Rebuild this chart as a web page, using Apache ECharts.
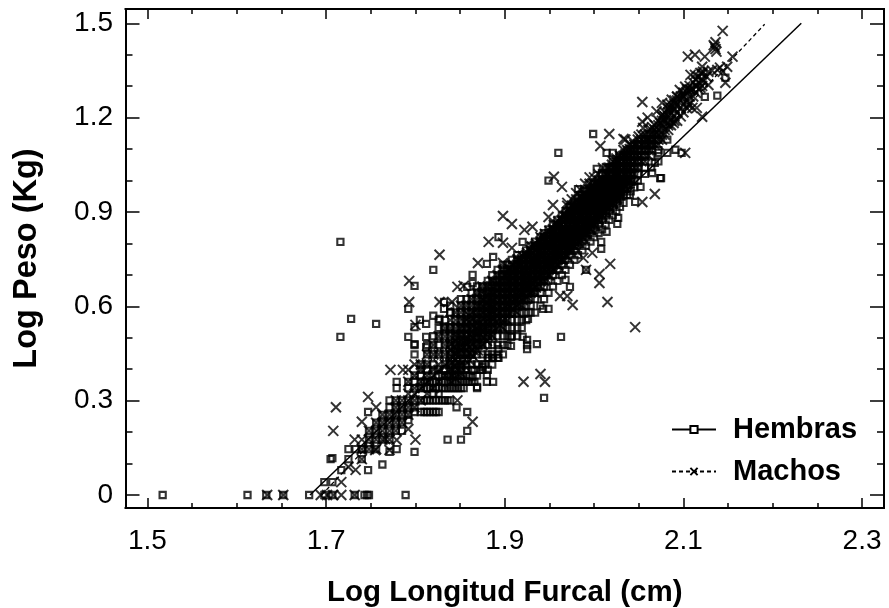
<!DOCTYPE html>
<html><head><meta charset="utf-8">
<script src="https://cdn.jsdelivr.net/npm/echarts@6/dist/echarts.min.js"></script>
<style>html,body{margin:0;padding:0;background:#fff}#c{width:889px;height:608px}</style>
</head><body><div id="c"></div>
<script>
const xMajor=[1.5,1.7,1.9,2.1,2.3];
const xMinor=[1.55,1.6,1.65,1.75,1.8,1.85,1.95,2,2.05,2.15,2.2,2.25];
const yMajor=[0,0.3,0.6,0.9,1.2,1.5];
const yMinor=[0.1,0.2,0.4,0.5,0.7,0.8,1,1.1,1.3,1.4];
const hembrasFit=[[1.682,0],[2.232,1.5]];
const machosFit=[[1.695,0],[2.191,1.497]];
const hembrasScattered=[
[1.517,0],[1.612,0],[1.633,0],[1.652,0],[1.681,0],[1.698,0],[1.707,0],[1.732,0],[1.743,0],[1.746,0],[1.748,0],[1.789,0],
[1.707,.117],[1.705,.114],[1.698,.041],[1.707,.041],[1.717,.079],[1.725,.114],[1.725,.146],[1.733,.146],[1.74,.146],[1.747,.079],[1.763,.097],[1.771,.137],[1.779,.146],[1.799,.137],[1.747,.264],[1.771,.301],[1.779,.36],[1.779,.34],[1.836,.176],[1.851,.176],[1.858,.204],[1.858,.264],[1.846,.279],[1.826,.264],[1.869,.34],[1.799,.477],[1.799,.447],[1.812,.47],
[1.716,.805],[1.82,.716],[1.799,.665],[1.728,.56],[1.756,.544],[1.716,.503],[1.792,.592],[1.792,.503],[1.799,.48],[1.805,.557],[1.799,.534],[1.812,.544],[1.82,.57],[1.827,.56],[1.832,.614],[1.832,.592],[1.839,.58],[1.832,.534],[1.839,.534],[1.812,.503],
[1.864,.7],[1.864,.674],[1.858,.662],[1.875,.662],[1.875,.636],[1.88,.735],[1.887,.757],[1.893,.82],[1.897,.7],[1.887,.678],[1.92,.805],[1.982,.973],[1.949,1.0],
[1.963,.503],[1.936,.48],[1.925,.493],[1.925,.477],[1.925,.464],[1.907,.503],[1.907,.474],[1.92,.503],[1.926,.56],[1.949,.592],[1.943,.592],[1.973,.662],[1.968,.684],[2.008,.805],[2.008,.783],[2.014,.837],[2.027,.881],[2.026,.862],[2.046,.932],[1.991,.716],[1.882,.436],[1.887,.436],[1.893,.436],[1.893,.464],[1.88,.382],[1.887,.36],[1.88,.36],[1.869,.344],[1.864,.375],[1.875,.407],[1.944,.309],
[1.999,1.148],[1.96,1.088],[2.003,1.037],[2.014,1.088],[2.021,1.088],[2.034,1.088],[2.052,.98],[2.065,1.024],[2.074,1.008],[2.04,.954],
[2.124,1.266],[2.138,1.27],[2.147,1.327],[2.091,1.098],[2.098,1.088],[2.075,1.008],[2.082,1.13],[2.082,1.088],[2.072,1.088],[2.068,1.056],
[1.81,.264],[1.816,.264],[1.823,.264],[1.81,.301],[1.816,.301],[1.823,.301],[1.83,.301],[1.836,.301],[1.81,.34],[1.816,.34],[1.823,.34],[1.83,.34],[1.836,.34],[1.842,.34],[1.848,.34],[1.854,.34],[1.81,.36],[1.816,.36],[1.823,.36],[1.83,.36],[1.836,.36],[1.842,.36],[1.848,.36],[1.854,.36],[1.86,.36],[1.866,.36],[1.83,.38],[1.836,.38],[1.842,.38],[1.848,.38],[1.854,.38],[1.86,.38],[1.866,.398],[1.872,.398],[1.878,.415]
];
const hembrasColumnX=[1.74,1.748,1.756,1.763,1.771,1.778,1.785,1.792,1.799,1.806,1.813,1.82,1.826,1.833,1.839,1.845,1.851,1.857,1.863,1.869,1.875,1.881,1.886,1.892,1.898,1.903,1.908,1.914,1.919,1.924,1.929,1.934,1.94,1.944,1.949,1.954,1.959,1.964,1.968,1.973,1.978,1.982,1.987,1.991,1.996,2.0,2.005,2.009,2.013,2.017,2.021,2.025,2.029,2.033,2.037,2.041,2.045,2.049,2.057,2.064,2.072];
const hembrasColumnY=[
[.146,.114],[.176,.146,.204],[.204,.176,.23,.146],[.204,.23,.255,.176],[.23,.204,.255,.279,.176],[.255,.23,.204,.279,.301],[.255,.279,.204,.23,.301],[.279,.301,.255,.34,.36,.238],[.264,.301,.34,.36,.279,.38],[.264,.301,.34,.36,.38,.415,.398],
[.264,.301,.34,.36,.38,.398,.415,.447,.477],
[.264,.301,.322,.34,.36,.398,.415,.447,.477,.505],
[.301,.322,.34,.36,.38,.398,.447,.477,.505,.531,.556],
[.301,.34,.36,.38,.398,.415,.447,.477,.505,.531,.556],
[.301,.34,.36,.38,.398,.415,.447,.477,.505,.531,.58,.602],
[.34,.36,.38,.398,.415,.447,.477,.505,.531,.556,.58],
[.34,.36,.38,.398,.415,.447,.477,.505,.531,.556,.58,.602,.623],
[.36,.38,.398,.415,.447,.477,.505,.531,.556,.58,.602,.623],
[.36,.398,.415,.447,.477,.505,.531,.556,.58,.602,.623,.643],
[.38,.415,.447,.477,.505,.531,.556,.58,.602,.623,.643,.663],
[.398,.415,.447,.477,.505,.531,.556,.58,.602,.623,.643,.663],
[.398,.436,.447,.477,.505,.531,.556,.58,.602,.623,.643,.663,.681],
[.415,.436,.447,.477,.505,.531,.556,.58,.602,.623,.643,.663,.681,.699],
[.436,.447,.477,.505,.531,.556,.58,.602,.623,.643,.663,.681,.699,.716],
[.447,.477,.505,.531,.556,.58,.602,.623,.643,.663,.681,.699,.716,.732],
[.477,.505,.531,.556,.58,.602,.623,.643,.663,.681,.699,.716,.732],
[.505,.531,.556,.58,.602,.623,.643,.663,.681,.699,.716,.732,.748],
[.505,.531,.556,.58,.602,.623,.643,.663,.681,.699,.716,.732,.748,.763],
[.531,.556,.58,.602,.623,.643,.663,.681,.699,.716,.732,.748,.763],
[.556,.58,.602,.623,.643,.663,.681,.699,.716,.732,.748,.763,.778],
[.58,.602,.623,.643,.663,.681,.699,.716,.732,.748,.763,.778,.792],
[.58,.623,.643,.663,.681,.699,.716,.732,.748,.763,.778,.792,.806],
[.602,.643,.663,.681,.699,.716,.732,.748,.763,.778,.792,.806,.82],
[.623,.663,.681,.699,.716,.732,.748,.763,.778,.792,.806,.82,.833],
[.643,.681,.699,.716,.732,.748,.763,.778,.792,.806,.82,.833,.845],
[.663,.699,.716,.732,.748,.763,.778,.792,.806,.82,.833,.845,.86],
[.681,.716,.732,.748,.763,.778,.792,.806,.82,.833,.845,.86,.875],
[.699,.732,.748,.763,.778,.792,.806,.82,.833,.845,.86,.875,.889],
[.716,.748,.763,.778,.792,.806,.82,.833,.845,.86,.875,.889,.903],
[.732,.763,.778,.792,.806,.82,.833,.845,.86,.875,.889,.903,.916],
[.748,.778,.792,.806,.82,.833,.845,.86,.875,.889,.903,.916,.929],
[.763,.792,.806,.82,.833,.845,.86,.875,.889,.903,.916,.929,.942],
[.778,.806,.82,.833,.845,.86,.875,.889,.903,.916,.929,.942,.954],
[.792,.82,.833,.845,.86,.875,.889,.903,.916,.929,.942,.954,.966],
[.806,.833,.845,.86,.875,.889,.903,.916,.929,.942,.954,.966,.978],
[.82,.845,.86,.875,.889,.903,.916,.929,.942,.954,.966,.978,.989],
[.833,.86,.875,.889,.903,.916,.929,.942,.954,.966,.978,.989,1.0],
[.845,.875,.889,.903,.916,.929,.942,.954,.966,.978,.989,1.0,1.021],
[.86,.889,.903,.916,.929,.942,.954,.966,.978,.989,1.0,1.021,1.041],
[.875,.903,.916,.929,.942,.954,.966,.978,.989,1.0,1.021,1.041],
[.889,.916,.929,.942,.954,.966,.978,.989,1.0,1.021,1.041,1.061],
[.903,.929,.942,.954,.966,.978,.989,1.0,1.021,1.041,1.061],
[.916,.942,.954,.966,.978,.989,1.0,1.021,1.041,1.061,1.079],
[.929,.954,.978,.989,1.0,1.021,1.041,1.061,1.079],
[.954,.978,1.0,1.021,1.041,1.061,1.079,1.097],
[.966,.989,1.0,1.021,1.041,1.061,1.079,1.097],
[.978,1.0,1.021,1.041,1.061,1.079,1.097,1.114],
[1.0,1.021,1.041,1.061,1.079,1.114],
[1.021,1.041,1.061,1.097,1.114,1.13],
[1.041,1.079,1.114,1.13],
[1.061,1.097,1.13]
];
const machosScattered=[
[1.634,0],[1.652,0],[1.694,0],[1.701,0],[1.708,0],[1.717,0],[1.732,0],
[1.711,.279],[1.708,.204],[1.747,.312],[1.732,.176],[1.74,.233],[1.756,.279],[1.772,.398],[1.786,.398],[1.8,.176],[1.792,.21],[1.864,.233],[1.847,.301],[1.717,.041],[1.725,.089],[1.733,.08],[1.755,.143],[1.771,.143],[1.779,.175],[1.766,.178],
[1.827,.764],[1.793,.681],[1.793,.614],[1.8,.541],[1.827,.614],[1.841,.614],[1.847,.662],[1.854,.665],[1.87,.738],[1.882,.805],[1.898,.887],[1.908,.862],[1.898,.802],[1.908,.786],[1.898,.738],[1.922,.843],[1.931,.853],[1.954,.922],[1.949,.884],[1.964,.98],[1.97,.929],
[1.921,.36],[1.94,.385],[1.945,.36],[2.018,.735],[2.006,.703],[2.006,.674],[2.015,.614],[1.976,.604],[1.962,.633],[1.97,.633],[2.046,.534],[1.991,.716],[1.998,.77],[1.988,.754],
[2.017,1.148],[2.007,1.11],[2.033,1.132],[1.955,1.012],[2.068,.957],[2.054,.932],
[2.144,1.476],[2.135,1.425],[2.136,1.44],[2.137,1.41],[2.134,1.43],[2.136,1.418],[2.155,1.394],[2.105,1.394],[2.113,1.4],[2.124,1.394],[2.121,1.362],[2.122,1.346],[2.128,1.346],[2.119,1.342],[2.113,1.336],[2.108,1.336],[2.141,1.359],[2.149,1.362],[2.138,1.352],[2.144,1.346],[2.132,1.35],
[2.147,1.311],[2.122,1.314],[2.128,1.304],[2.119,1.295],[2.102,1.298],[2.108,1.288],[2.096,1.288],[2.093,1.266],[2.087,1.257],[2.082,1.241],[2.076,1.247],[2.054,1.25],[2.054,1.187],[2.055,1.167],[2.035,1.13],[2.043,1.126],
[2.121,1.203],[2.115,1.231],[2.11,1.231],[2.105,1.241],[2.089,1.183],[2.077,1.209],[2.074,1.183],[2.082,1.183],[2.102,1.088],[2.1,1.27],[2.115,1.3],[2.126,1.33],[2.09,1.225],[2.07,1.22],[2.065,1.17],[2.06,1.2],[2.07,1.15],[2.045,1.09],[2.05,1.14],[2.06,1.13]
];
const machosColumnX=[1.74,1.748,1.756,1.763,1.771,1.778,1.785,1.792,1.799,1.806,1.813,1.82,1.826,1.833,1.839,1.845,1.851,1.857,1.863,1.869,1.875,1.881,1.886,1.892,1.898,1.903,1.908,1.914,1.919,1.924,1.929,1.934,1.94,1.944,1.949,1.954,1.959,1.964,1.968,1.973,1.978,1.982,1.987,1.991,1.996,2.0,2.005,2.009,2.013,2.017,2.021,2.025,2.029,2.033,2.037,2.041,2.045,2.049,2.053,2.057,2.061,2.064,2.068,2.072,2.076,2.079,2.083,2.086,2.09,2.093,2.097,2.1,2.104,2.107,2.111,2.114,2.117,2.121];
const machosColumnY=[
[.114,.146,.176],[.146,.176,.204],[.146,.176,.204,.23],[.176,.204,.23,.255],[.176,.204,.23,.255],[.204,.23,.255,.279,.301],[.23,.255,.279,.301],[.255,.279,.301,.322,.36,.398],[.279,.301,.322,.34,.38,.415],[.301,.34,.36,.398,.415],[.322,.36,.38,.415,.447],[.34,.38,.398,.447,.477],[.36,.398,.415,.447,.505],
[.38,.415,.447,.477,.505,.531],[.398,.415,.447,.477,.505,.531,.556],[.415,.447,.477,.505,.531,.556,.58],[.415,.447,.477,.505,.531,.556,.58,.602],[.447,.477,.505,.531,.556,.58,.602],[.447,.477,.505,.531,.556,.58,.602,.623],[.477,.505,.531,.556,.58,.602,.623,.643],[.477,.505,.531,.556,.58,.602,.623,.643,.663],[.505,.531,.556,.58,.602,.623,.643,.663],[.505,.531,.556,.58,.602,.623,.643,.663,.681],[.531,.556,.58,.602,.623,.643,.663,.681,.699],[.531,.556,.58,.602,.623,.643,.663,.681,.699,.716],[.556,.58,.602,.623,.643,.663,.681,.699,.716],[.58,.602,.623,.643,.663,.681,.699,.716,.732],[.58,.602,.623,.643,.663,.681,.699,.716,.732,.748],[.602,.623,.643,.663,.681,.699,.716,.732,.748],[.623,.643,.663,.681,.699,.716,.732,.748,.763],[.643,.663,.681,.699,.716,.732,.748,.763,.778],[.643,.663,.681,.699,.716,.732,.748,.763,.778,.792],[.663,.681,.699,.716,.732,.748,.763,.778,.792,.806],[.681,.699,.716,.732,.748,.763,.778,.792,.806,.82],[.699,.716,.732,.748,.763,.778,.792,.806,.82],[.716,.732,.748,.763,.778,.792,.806,.82,.833,.845],[.732,.748,.763,.778,.792,.806,.82,.833,.845,.86],[.748,.763,.778,.792,.806,.82,.833,.845,.86,.875],[.763,.778,.792,.806,.82,.833,.845,.86,.875,.889],[.778,.792,.806,.82,.833,.845,.86,.875,.889,.903],[.792,.806,.82,.833,.845,.86,.875,.889,.903,.916],[.806,.82,.833,.845,.86,.875,.889,.903,.916,.929],[.82,.833,.845,.86,.875,.889,.903,.916,.929,.942],[.833,.845,.86,.875,.889,.903,.916,.929,.942,.954],[.845,.86,.875,.889,.903,.916,.929,.942,.954,.966],[.86,.875,.889,.903,.916,.929,.942,.954,.966,.978],[.875,.889,.903,.916,.929,.942,.954,.966,.978,.989],[.889,.903,.916,.929,.942,.954,.966,.978,.989,1.0],[.903,.916,.929,.942,.954,.966,.978,.989,1.0,1.021],[.916,.929,.942,.954,.966,.978,.989,1.0,1.021,1.041],[.929,.942,.954,.966,.978,.989,1.0,1.021,1.041,1.061],[.942,.954,.966,.978,.989,1.0,1.021,1.041,1.061],[.954,.966,.978,.989,1.0,1.021,1.041,1.061,1.079],[.978,.989,1.0,1.021,1.041,1.061,1.079,1.097],[.989,1.0,1.021,1.041,1.061,1.079,1.097],[1.0,1.021,1.041,1.061,1.079,1.097,1.114],[1.021,1.041,1.061,1.079,1.097,1.114],[1.041,1.061,1.079,1.097,1.114,1.13],
[1.061,1.079,1.097,1.114,1.13,1.146],[1.061,1.079,1.097,1.114,1.13,1.146],[1.079,1.097,1.114,1.13,1.146,1.161],[1.097,1.114,1.13,1.146,1.161],[1.114,1.13,1.146,1.161,1.176],[1.114,1.13,1.146,1.161,1.176,1.19],[1.13,1.146,1.176,1.19,1.204],[1.146,1.161,1.19,1.204,1.217],[1.161,1.176,1.204,1.217,1.23],[1.176,1.19,1.217,1.23,1.243],[1.19,1.204,1.23,1.243,1.255],[1.19,1.217,1.243,1.255,1.267],[1.204,1.23,1.255,1.267],[1.217,1.243,1.267,1.279],[1.23,1.255,1.279,1.29],[1.243,1.267,1.29,1.301],[1.267,1.29,1.312],[1.279,1.301,1.322],[1.29,1.312,1.33],[1.301,1.322,1.34]
];
const coreColumnX=[1.84,1.845,1.85,1.855,1.86,1.865,1.87,1.875,1.88,1.885,1.89,1.895,1.9,1.905,1.91,1.915,1.92,1.925,1.93,1.935,1.94,1.945,1.95,1.955,1.96,1.965,1.97,1.975,1.98,1.985,1.99,1.995,2.0,2.005,2.01,2.015,2.02,2.025,2.03,2.035,2.04];
const coreColumnY=[
[.36,.38,.40,.42,.44,.46,.48],[.37,.39,.41,.43,.45,.47,.49,.51],[.39,.41,.43,.45,.47,.49,.51,.53],[.41,.43,.45,.47,.49,.51,.53,.55],[.43,.45,.47,.49,.51,.53,.55,.57],[.44,.46,.48,.50,.52,.54,.56,.58],[.46,.48,.50,.52,.54,.56,.58,.60],[.48,.50,.52,.54,.56,.58,.60,.62],[.49,.51,.53,.55,.57,.59,.61,.63],[.51,.53,.55,.57,.59,.61,.63,.65],[.53,.55,.57,.59,.61,.63,.65,.67],[.54,.56,.58,.60,.62,.64,.66,.68],[.56,.58,.60,.62,.64,.66,.68,.70],[.58,.60,.62,.64,.66,.68,.70,.72],[.59,.61,.63,.65,.67,.69,.71,.73],[.61,.63,.65,.67,.69,.71,.73,.75],[.62,.64,.66,.68,.70,.72,.74,.76],[.63,.65,.67,.69,.71,.73,.75,.77],[.65,.67,.69,.71,.73,.75,.77,.79],[.66,.68,.70,.72,.74,.76,.78,.80],[.68,.70,.72,.74,.76,.78,.80,.82],[.69,.71,.73,.75,.77,.79,.81,.83],[.70,.72,.74,.76,.78,.80,.82,.84],[.72,.74,.76,.78,.80,.82,.84,.86],[.73,.75,.77,.79,.81,.83,.85,.87],[.75,.77,.79,.81,.83,.85,.87,.89],[.76,.78,.80,.82,.84,.86,.88,.90,.92],[.78,.80,.82,.84,.86,.88,.90,.92,.94],[.80,.82,.84,.86,.88,.90,.92,.94,.96],[.81,.83,.85,.87,.89,.91,.93,.95,.97],[.83,.85,.87,.89,.91,.93,.95,.97,.99],[.85,.87,.89,.91,.93,.95,.97,.99,1.01],[.87,.89,.91,.93,.95,.97,.99,1.01],[.88,.90,.92,.94,.96,.98,1.0,1.02],[.90,.92,.94,.96,.98,1.0,1.02,1.04],[.92,.94,.96,.98,1.0,1.02,1.04],[.93,.95,.97,.99,1.01,1.03,1.05],[.95,.97,.99,1.01,1.03,1.05,1.07],[.97,.99,1.01,1.03,1.05,1.07],[.98,1.0,1.02,1.04,1.06,1.08],[1.0,1.02,1.04,1.06,1.08,1.10]
];
function expand(xs,ys,extra){const out=extra.slice();xs.forEach((x,i)=>ys[i].forEach(y=>out.push([x,y])));return out;}
const hembras=expand(hembrasColumnX,hembrasColumnY,hembrasScattered);
const machos=expand(coreColumnX,coreColumnY,expand(machosColumnX,machosColumnY,machosScattered));
const FONT='"Liberation Sans",Arial,sans-serif';
const INK='#000';
const CROSS='path://M0 0L10 10M0 10L10 0';
const xLim={min:1.4754,max:2.3246},yLim={min:-0.0413,max:1.5455};
const line={show:true,onZero:false,lineStyle:{color:INK,width:2}};
function xa(pos,vals,len,labels){return {type:'value',position:pos,...xLim,axisLine:line,splitLine:{show:false},minorTick:{show:false},
 axisTick:{show:true,inside:true,length:len,customValues:vals,lineStyle:{color:INK,width:1.5}},
 axisLabel:labels?{show:true,customValues:vals,margin:19,fontFamily:FONT,fontSize:28,color:'#000',formatter:v=>String(v)}:{show:false},
 ...(labels?{name:'Log Longitud Furcal (cm)',nameLocation:'middle',nameGap:70,nameTextStyle:{fontFamily:FONT,fontSize:29.5,fontWeight:'bold',color:INK}}:{})};}
function ya(pos,vals,len,labels){return {type:'value',position:pos,...yLim,axisLine:line,splitLine:{show:false},minorTick:{show:false},
 axisTick:{show:true,inside:true,length:len,customValues:vals,lineStyle:{color:INK,width:1.5}},
 axisLabel:labels?{show:true,customValues:vals,margin:12.5,fontFamily:FONT,fontSize:28,color:'#000',formatter:v=>String(v)}:{show:false},
 ...(labels?{name:'Log Peso (Kg)',nameLocation:'middle',nameGap:82,nameTextStyle:{fontFamily:FONT,fontSize:32.5,fontWeight:'bold',color:INK}}:{})};}
const chart=echarts.init(document.getElementById('c'),null,{renderer:'canvas'});
chart.setOption({
 animation:false,backgroundColor:'#fff',
 grid:{left:125.5,top:9,width:758.5,height:499,containLabel:false,outerBoundsMode:'none'},
 xAxis:[xa('bottom',xMajor,10,true),xa('bottom',xMinor,5,false),xa('top',xMajor,10,false),xa('top',xMinor,5,false)],
 yAxis:[ya('left',yMajor,14,true),ya('left',yMinor,7,false),ya('right',yMajor,14,false),ya('right',yMinor,7,false)],
 legend:{data:['Hembras','Machos'],orient:'vertical',left:666,top:410,itemWidth:44,itemHeight:9,itemGap:13,
  textStyle:{fontFamily:FONT,fontSize:29,fontWeight:'bold',color:INK,padding:[0,0,0,12]},selectedMode:false},
 series:[
  {name:'pts-h',type:'scatter',data:hembras,symbol:'rect',symbolSize:6.2,large:false,itemStyle:{color:'rgba(255,255,255,0)',borderColor:'#000',borderWidth:2.1},silent:true},
  {name:'pts-m',type:'scatter',data:machos,symbol:CROSS,symbolSize:10,large:false,itemStyle:{color:'none',borderColor:'#000',borderWidth:2},silent:true},
  {name:'Hembras',type:'line',data:hembrasFit,symbol:'rect',symbolSize:5.5,showSymbol:false,lineStyle:{color:INK,width:1.5},itemStyle:{color:'#fff',borderColor:INK,borderWidth:1.3},z:5,silent:true},
  {name:'Machos',type:'line',data:machosFit,symbol:CROSS,symbolSize:8,showSymbol:false,lineStyle:{color:INK,width:1.3,type:[4,3]},itemStyle:{color:'none',borderColor:INK,borderWidth:1.2},z:5,silent:true}
 ]
});
</script></body></html>
